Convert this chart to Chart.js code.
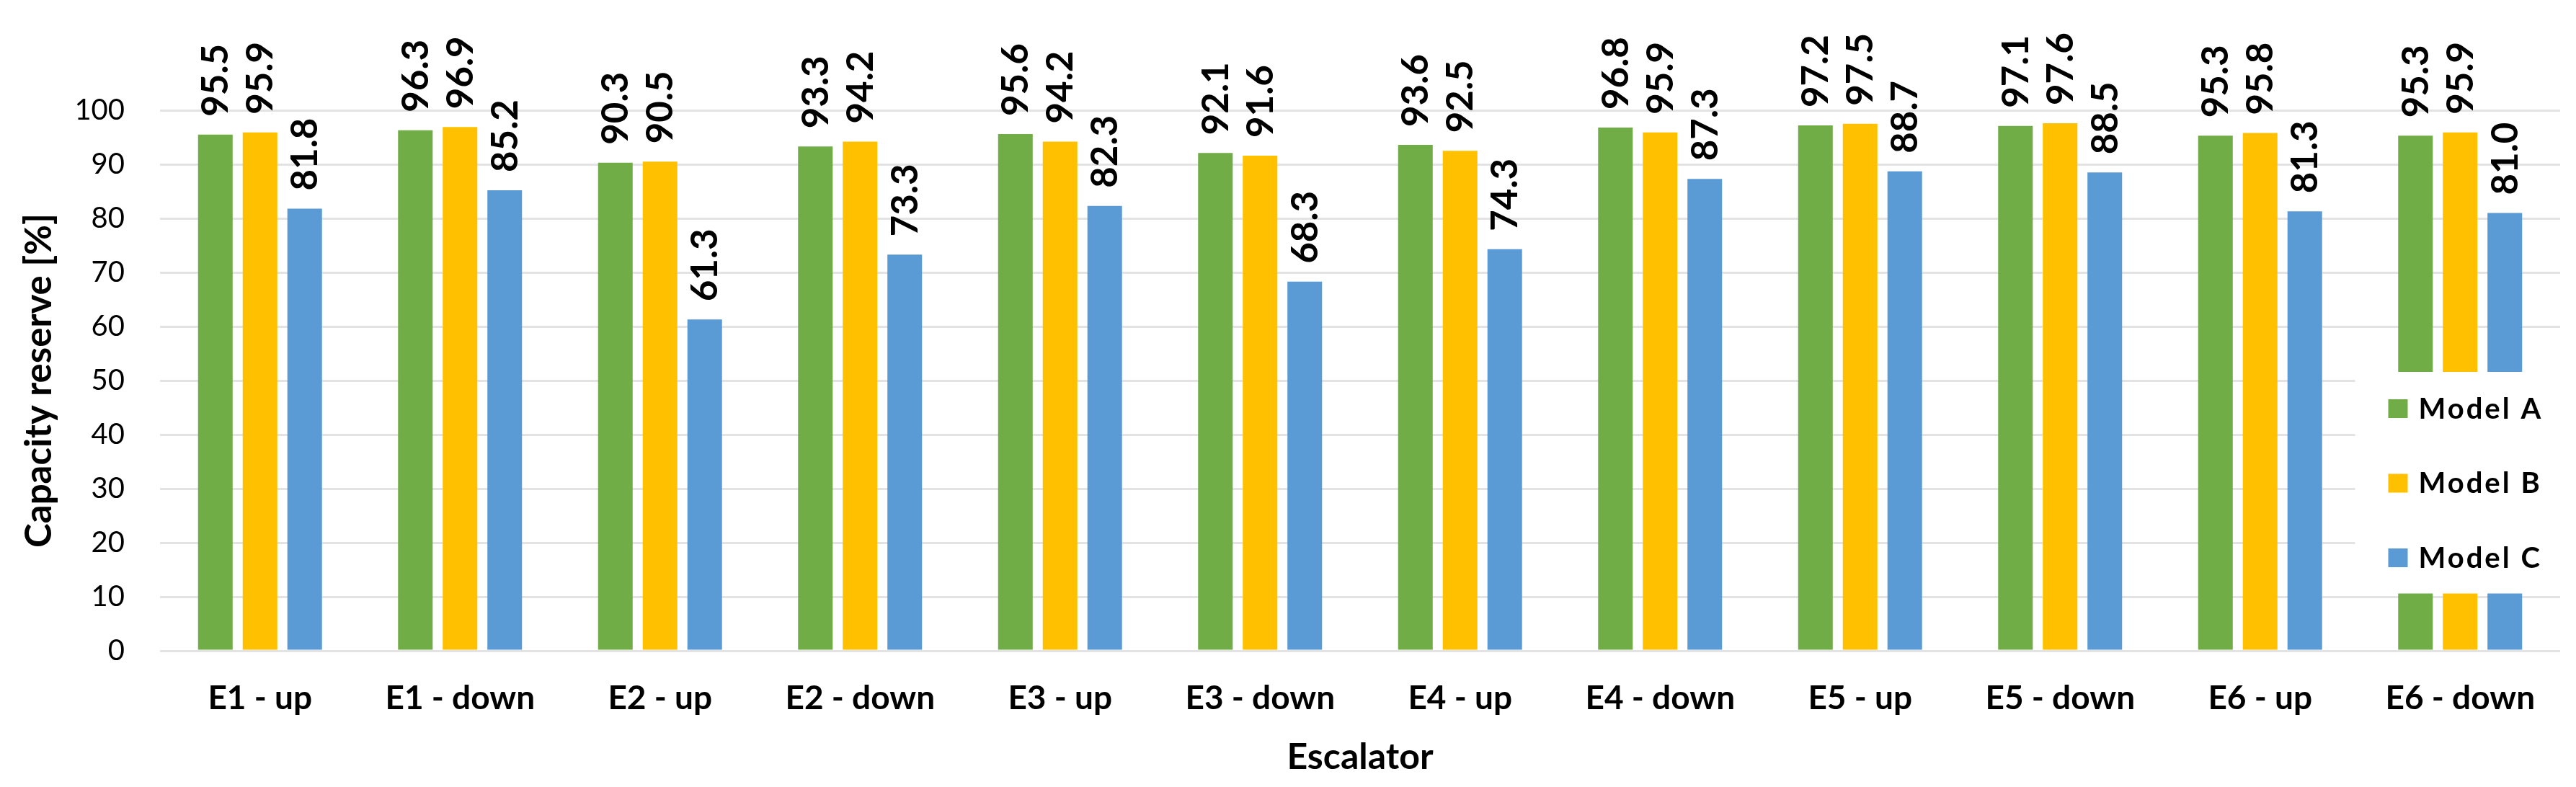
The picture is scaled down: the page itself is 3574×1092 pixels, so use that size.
<!DOCTYPE html>
<html>
<head>
<meta charset="utf-8">
<style>
  html, body { margin: 0; padding: 0; background: #ffffff; }
  #wrap { width: 3574px; height: 1092px; }
</style>
<script src="https://cdn.jsdelivr.net/npm/chart.js@4.4.1/dist/chart.umd.min.js"></script>
</head>
<body>
<div id="wrap"><canvas id="c" width="3574" height="1092"></canvas></div>
<script>
const categories = ['E1 - up','E1 - down','E2 - up','E2 - down','E3 - up','E3 - down','E4 - up','E4 - down','E5 - up','E5 - down','E6 - up','E6 - down'];
const modelA = [95.5, 96.3, 90.3, 93.3, 95.6, 92.1, 93.6, 96.8, 97.2, 97.1, 95.3, 95.3];
const modelB = [95.9, 96.9, 90.5, 94.2, 94.2, 91.6, 92.5, 95.9, 97.5, 97.6, 95.8, 95.9];
const modelC = [81.8, 85.2, 61.3, 73.3, 82.3, 68.3, 74.3, 87.3, 88.7, 88.5, 81.3, 81.0];
const seriesNames = ['Model A', 'Model B', 'Model C'];
const seriesColors = ['#70AD47', '#FFC000', '#5B9BD5'];
const yTicks = [0, 10, 20, 30, 40, 50, 60, 70, 80, 90, 100];
const xTitle = 'Escalator';
const yTitle = 'Capacity reserve [%]';

const FONT = 'Lato, "Open Sans", sans-serif';

const valueLabels = {
  id: 'valueLabels',
  afterDatasetsDraw(chart) {
    const ctx = chart.ctx;
    ctx.save();
    ctx.fillStyle = '#000';
    ctx.font = 'bold 51px ' + FONT;
    ctx.textAlign = 'left';
    ctx.textBaseline = 'middle';
    chart.data.datasets.forEach((ds, i) => {
      const meta = chart.getDatasetMeta(i);
      meta.data.forEach((bar, j) => {
        ctx.save();
        ctx.translate(bar.x + 1, bar.y - 25);
        ctx.rotate(-Math.PI / 2);
        ctx.fillText(ds.data[j].toFixed(1), 0, 0);
        ctx.restore();
      });
    });
    ctx.restore();
  }
};

const insideLegend = {
  id: 'insideLegend',
  afterDraw(chart) {
    const ctx = chart.ctx;
    const xs = chart.scales.x, ys = chart.scales.y;
    const n = categories.length;
    const left = (xs.getPixelForValue(n - 2) + xs.getPixelForValue(n - 1)) / 2 - 7;
    const right = chart.width;
    const top = ys.getPixelForValue(51.6);
    const bottom = ys.getPixelForValue(10.6);
    ctx.save();
    ctx.fillStyle = '#ffffff';
    ctx.fillRect(left, top, right - left, bottom - top);
    const boxX = left + 46;
    const rowH = 103.5;
    const firstY = top + 51;
    ctx.font = 'bold 40px ' + FONT;
    ctx.textAlign = 'left';
    ctx.textBaseline = 'middle';
    try { ctx.letterSpacing = '3px'; } catch (e) {}
    chart.data.datasets.forEach((ds, i) => {
      const cy = firstY + i * rowH;
      ctx.fillStyle = ds.backgroundColor;
      ctx.fillRect(boxX, cy - 13, 27, 26);
      ctx.fillStyle = '#000';
      ctx.fillText(ds.label, boxX + 42, cy + 1);
    });
    ctx.restore();
  }
};

function build() {
  const datasets = [modelA, modelB, modelC].map((d, i) => ({
    label: seriesNames[i],
    data: d,
    backgroundColor: seriesColors[i],
    borderWidth: 0,
    categoryPercentage: 0.67,
    barPercentage: 0.775
  }));
  new Chart(document.getElementById('c'), {
    type: 'bar',
    data: { labels: categories, datasets },
    plugins: [valueLabels, insideLegend],
    options: {
      responsive: false,
      animation: false,
      devicePixelRatio: 1,
      layout: { padding: { top: 153, right: 22, bottom: 0, left: 0 } },
      plugins: { legend: { display: false }, tooltip: { enabled: false }, title: { display: false } },
      scales: {
        x: {
          grid: { display: false, drawTicks: false },
          border: { display: false },
          ticks: { color: '#000', font: { family: FONT, size: 46, weight: 'bold' }, padding: 39, maxRotation: 0, autoSkip: false },
          title: { display: true, text: xTitle, color: '#000', font: { family: FONT, size: 50, weight: 'bold' }, padding: { top: 0, bottom: 11 } },
          afterFit(s) { s.height = 189; }
        },
        y: {
          min: 0, max: 100,
          afterBuildTicks(s) { s.ticks = yTicks.map(v => ({ value: v })); },
          grid: { color: '#e3e3e3', lineWidth: 3, drawTicks: false },
          border: { display: false },
          ticks: { color: '#000', font: { family: FONT, size: 40 }, padding: 49 },
          title: { display: true, text: yTitle, color: '#000', font: { family: FONT, size: 51, weight: 'bold' }, padding: { top: 24, bottom: 0 } },
          afterFit(s) { s.width = 222; }
        }
      }
    }
  });
}

const fontLoads = [
  document.fonts.load('bold 51px Lato'),
  document.fonts.load('40px Lato')
];
Promise.race([Promise.all(fontLoads), new Promise(r => setTimeout(r, 1500))]).then(build, build);
</script>
</body>
</html>
